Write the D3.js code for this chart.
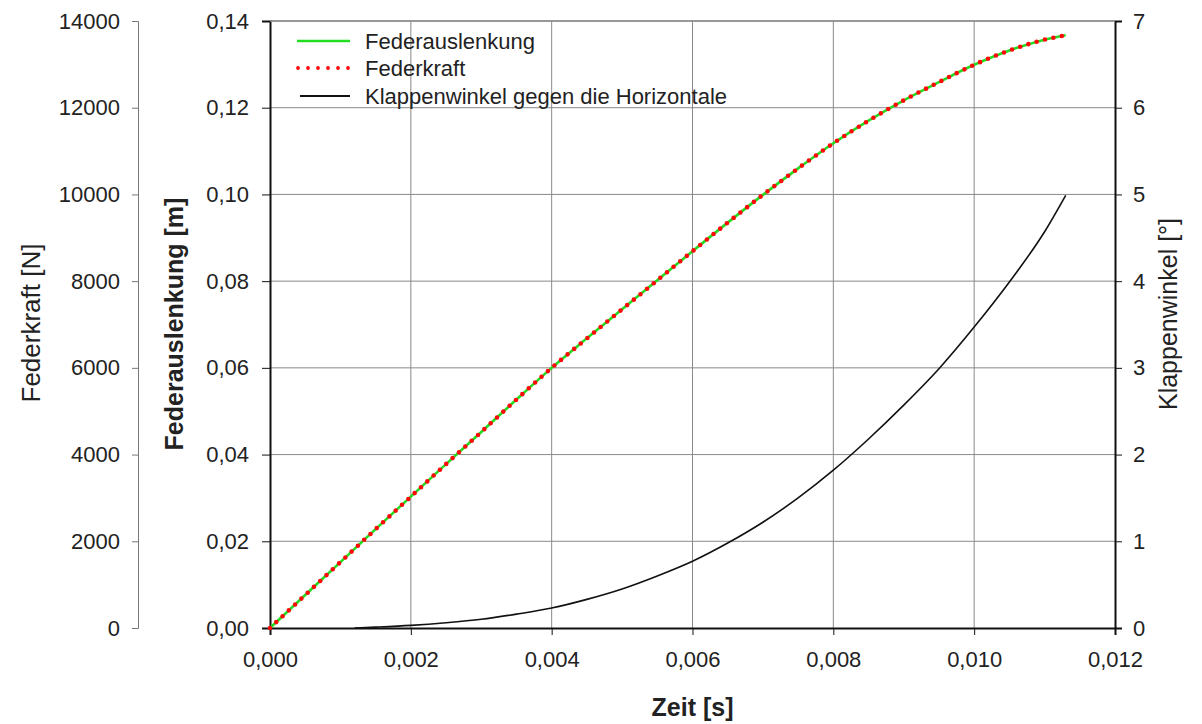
<!DOCTYPE html>
<html>
<head>
<meta charset="utf-8">
<script src="https://cdn.jsdelivr.net/npm/d3@7"></script>
<style>
  html, body { margin: 0; padding: 0; background: #fff; }
  svg { display: block; }
  text { font-family: "Liberation Sans", Arial, sans-serif; fill: #222; }
</style>
</head>
<body>
<svg id="chart" width="1202" height="724"></svg>
<script>
// ---- data ----
const zeit = [0, 0.0005, 0.001, 0.0015, 0.002, 0.0025, 0.003, 0.0035, 0.004, 0.0045,
  0.005, 0.0055, 0.006, 0.0065, 0.007, 0.0075, 0.008, 0.0085, 0.009, 0.0095,
  0.010, 0.0105, 0.011, 0.0113];
const federauslenkung = [0, 0.0076, 0.0152, 0.0228, 0.0303, 0.0378, 0.0452, 0.0527, 0.0600, 0.0668,
  0.0735, 0.0802, 0.0869, 0.0935, 0.0999, 0.1060, 0.1118, 0.1170, 0.1217, 0.1259,
  0.1299, 0.1332, 0.1357, 0.1367];
const federkraft = [0, 760, 1520, 2280, 3030, 3780, 4520, 5270, 6000, 6680,
  7350, 8020, 8690, 9350, 9990, 10600, 11180, 11700, 12170, 12590,
  12990, 13320, 13570, 13670];
const zeitWinkel = [0.0012, 0.0015, 0.002, 0.0025, 0.003, 0.0035, 0.004, 0.0045, 0.005, 0.0055,
  0.006, 0.0065, 0.007, 0.0075, 0.008, 0.0085, 0.009, 0.0095, 0.010, 0.0105, 0.011, 0.0113];
const klappenwinkel = [0.0, 0.01, 0.03, 0.06, 0.10, 0.16, 0.23, 0.33, 0.45, 0.60,
  0.77, 0.98, 1.22, 1.50, 1.82, 2.18, 2.57, 2.99, 3.47, 3.99, 4.57, 4.99];

const xTicks = [0, 0.002, 0.004, 0.006, 0.008, 0.010, 0.012];
const mTicks = [0, 0.02, 0.04, 0.06, 0.08, 0.10, 0.12, 0.14];
const nTicks = [0, 2000, 4000, 6000, 8000, 10000, 12000, 14000];
const degTicks = [0, 1, 2, 3, 4, 5, 6, 7];

const legendLabels = ["Federauslenkung", "Federkraft", "Klappenwinkel gegen die Horizontale"];
const titles = { x: "Zeit [s]", m: "Federauslenkung [m]", n: "Federkraft [N]", deg: "Klappenwinkel [°]" };

// ---- setup ----
const loc = d3.formatLocale({ decimal: ",", thousands: "", grouping: [3], currency: ["", ""] });
const f3 = loc.format(".3f"), f2 = loc.format(".2f"), fd = loc.format("d");

const svg = d3.select("#chart");
const L = 270, R = 1115, T = 21, B = 628, NAX = 138;

const x = d3.scaleLinear().domain([0, 0.012]).range([L, R]);
const yM = d3.scaleLinear().domain([0, 0.14]).range([B, T]);
const yN = d3.scaleLinear().domain([0, 14000]).range([B, T]);
const yD = d3.scaleLinear().domain([0, 7]).range([B, T]);

// grid
const grid = svg.append("g");
grid.selectAll("line.v").data(xTicks.slice(1, -1)).join("line")
  .attr("x1", d => x(d)).attr("x2", d => x(d)).attr("y1", T).attr("y2", B)
  .attr("stroke", "#8a8a8a").attr("stroke-width", 1);
grid.selectAll("line.h").data(mTicks.slice(1)).join("line")
  .attr("x1", L).attr("x2", R).attr("y1", d => yM(d)).attr("y2", d => yM(d))
  .attr("stroke", "#8a8a8a").attr("stroke-width", 1);

function styleAxis(g, color, width) {
  g.select(".domain").attr("stroke", color).attr("stroke-width", width);
  g.selectAll(".tick line").attr("stroke", color).attr("stroke-width", 1);
  g.selectAll(".tick text").style("font-size", "22px").attr("fill", "#222")
    .style("font-family", '"Liberation Sans", Arial, sans-serif');
}

// bottom axis
const gx = svg.append("g").attr("transform", `translate(0,${B})`)
  .call(d3.axisBottom(x).tickValues(xTicks).tickFormat(f3).tickSizeOuter(0).tickSize(7).tickPadding(16));
styleAxis(gx, "#111", 2);

// Federauslenkung axis (left, at plot)
const gm = svg.append("g").attr("transform", `translate(${L},0)`)
  .call(d3.axisLeft(yM).tickValues(mTicks).tickFormat(f2).tickSizeOuter(0).tickSize(8).tickPadding(13));
styleAxis(gm, "#111", 2);

// Federkraft axis (far left)
const gn = svg.append("g").attr("transform", `translate(${NAX},0)`)
  .call(d3.axisLeft(yN).tickValues(nTicks).tickFormat(fd).tickSizeOuter(0).tickSize(6).tickPadding(12));
styleAxis(gn, "#777", 1);

// Klappenwinkel axis (right)
const gd = svg.append("g").attr("transform", `translate(${R},0)`)
  .call(d3.axisRight(yD).tickValues(degTicks).tickFormat(fd).tickSizeOuter(0).tickSize(7).tickPadding(11));
styleAxis(gd, "#111", 2);

// top border
svg.append("line").attr("x1", L).attr("x2", R).attr("y1", T).attr("y2", T)
  .attr("stroke", "#8a8a8a").attr("stroke-width", 1.5);

// lines
const lineM = d3.line().x((d, i) => x(zeit[i])).y(d => yM(d)).curve(d3.curveMonotoneX);
const lineN = d3.line().x((d, i) => x(zeit[i])).y(d => yN(d)).curve(d3.curveMonotoneX);
const lineD = d3.line().x((d, i) => x(zeitWinkel[i])).y(d => yD(d)).curve(d3.curveMonotoneX);

svg.append("path").attr("d", lineD(klappenwinkel)).attr("fill", "none")
  .attr("stroke", "#111").attr("stroke-width", 1.6);
svg.append("path").attr("d", lineM(federauslenkung)).attr("fill", "none")
  .attr("stroke", "#22dd22").attr("stroke-width", 2.6);
svg.append("path").attr("d", lineN(federkraft)).attr("fill", "none")
  .attr("stroke", "#ff0a0a").attr("stroke-width", 4.6)
  .attr("stroke-linecap", "round").attr("stroke-dasharray", "0,8.6");

// legend
const leg = svg.append("g");
const rowsY = [41, 68, 96];
leg.append("line").attr("x1", 297).attr("x2", 350).attr("y1", rowsY[0]).attr("y2", rowsY[0])
  .attr("stroke", "#22dd22").attr("stroke-width", 2.5);
leg.append("line").attr("x1", 298).attr("x2", 350).attr("y1", rowsY[1]).attr("y2", rowsY[1])
  .attr("stroke", "#ff0a0a").attr("stroke-width", 3.8)
  .attr("stroke-linecap", "round").attr("stroke-dasharray", "0,10");
leg.append("line").attr("x1", 300).attr("x2", 350).attr("y1", rowsY[2]).attr("y2", rowsY[2])
  .attr("stroke", "#111").attr("stroke-width", 1.8);
leg.selectAll("text").data(legendLabels).join("text")
  .attr("x", 365).attr("y", (d, i) => rowsY[i]).attr("dy", "0.36em")
  .style("font-size", "22px").text(d => d);

// axis titles
svg.append("text").attr("x", x(0.006)).attr("y", 716).attr("text-anchor", "middle")
  .style("font-size", "25px").style("font-weight", "bold").text(titles.x);
svg.append("text").attr("transform", "translate(183,324) rotate(-90)").attr("text-anchor", "middle")
  .style("font-size", "25px").style("font-weight", "bold").text(titles.m);
svg.append("text").attr("transform", "translate(40,323) rotate(-90)").attr("text-anchor", "middle")
  .style("font-size", "26px").text(titles.n);
svg.append("text").attr("transform", "translate(1177,314) rotate(-90)").attr("text-anchor", "middle")
  .style("font-size", "25px").text(titles.deg);
</script>
</body>
</html>
